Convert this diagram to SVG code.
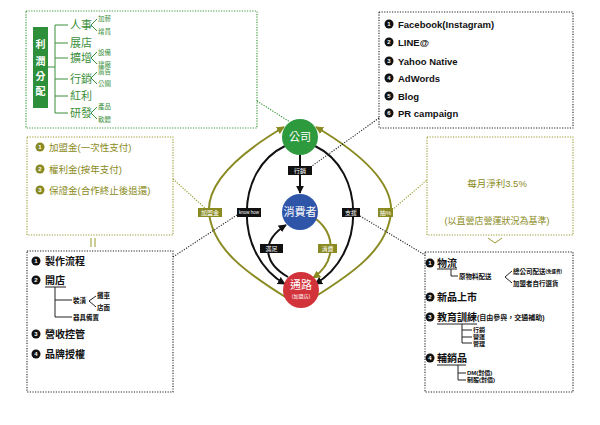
<svg xmlns="http://www.w3.org/2000/svg" width="600" height="425" viewBox="0 0 600 425">
<defs>
<style>
text{font-family:"Liberation Sans","Noto Sans CJK TC",sans-serif;dominant-baseline:central}
.g{fill:#3a8f3a}
.o{fill:#8a8a22}
.k{fill:#111}
.w{fill:#fff}
.gl{stroke:#3a8f3a;fill:none;stroke-width:1}
.kl{stroke:#222;fill:none;stroke-width:1}
.dg{stroke:#3a9a3a;stroke-width:1.2;stroke-dasharray:1.2 1.4;fill:none}
.dk{stroke:#222;stroke-width:1.1;stroke-dasharray:1.2 1.4;fill:none}
.do{stroke:#9a9a30;stroke-width:1.1;stroke-dasharray:1.2 1.4;fill:none}
.arcK{stroke:#111;stroke-width:2;fill:none}
.arcO{stroke:#8a8a22;stroke-width:2;fill:none}
.lbK{fill:#111}
.lbO{fill:#8a8a22}
.lt{fill:#fff;font-size:6px;text-anchor:middle}
.num{fill:#fff;font-size:6px;font-weight:bold;text-anchor:middle}
.b{font-weight:bold}
</style>
<marker id="ak" viewBox="0 0 10 10" refX="9" refY="5" markerWidth="8" markerHeight="8" markerUnits="userSpaceOnUse" orient="auto"><path d="M0,0 L10,5 L0,10 z" fill="#111"/></marker>
<marker id="ao" viewBox="0 0 10 10" refX="9" refY="5" markerWidth="8" markerHeight="8" markerUnits="userSpaceOnUse" orient="auto"><path d="M0,0 L10,5 L0,10 z" fill="#8a8a22"/></marker>
</defs>
<rect width="600" height="425" fill="#fff"/>

<g id="connectors">
<path class="arcO" d="M287,298 C250,275 212,250 209,212 C207,180 245,150 284,127" marker-end="url(#ao)"/>
<path class="arcO" d="M313,298 C350,275 388,250 391,212 C393,180 355,150 316,127" marker-end="url(#ao)"/>
<path class="arcK" d="M285,146 C234,170 234,255 285,284" marker-end="url(#ak)"/>
<path class="arcK" d="M315,146 C366,170 366,255 315,284" marker-end="url(#ak)"/>
<path class="arcK" d="M300,155 L300,193" marker-end="url(#ak)"/>
<path class="arcK" d="M288,277 C262,262 262,240 286,225" marker-end="url(#ak)"/>
<path class="arcO" d="M316,219 C336,235 336,262 313,278" marker-end="url(#ao)"/>
<path class="dg" d="M257,101 L290,122"/>
<path class="dk" d="M379,118 L312,166"/>
<path class="do" d="M173,179 L205,208"/>
<path class="dk" d="M173,257 L237,215"/>
<path class="do" d="M392,210 L427,180"/>
<path class="dk" d="M360,216 L425,255"/>
<rect class="lbK" x="288" y="166" width="24" height="9"/><text class="lt" x="300" y="170.5">行銷</text>
<rect class="lbK" x="237" y="208" width="24" height="9"/><text class="lt" x="249" y="212.5" style="font-size:4.5px">know how</text>
<rect class="lbK" x="342" y="208" width="18" height="9"/><text class="lt" x="351" y="212.5">支援</text>
<rect class="lbO" x="198" y="208" width="24" height="9"/><text class="lt" x="210" y="212.5">加盟金</text>
<rect class="lbO" x="378" y="208" width="15" height="9"/><text class="lt" x="385.5" y="212.5">抽%</text>
<rect class="lbK" x="260" y="244" width="23" height="9"/><text class="lt" x="271.5" y="248.5">滿足</text>
<rect class="lbO" x="318" y="244" width="19" height="9"/><text class="lt" x="327.5" y="248.5">消費</text>
</g>

<g id="node-company"><circle cx="300" cy="137" r="18" fill="#2e9a3e"/><text class="w" x="300" y="137" style="font-size:11px;text-anchor:middle">公司</text></g>
<g id="node-consumer"><circle cx="300" cy="212" r="18" fill="#2f55a8"/><text class="w" x="300" y="212" style="font-size:11px;text-anchor:middle">消費者</text></g>
<g id="node-channel"><circle cx="301" cy="290" r="18" fill="#d2323a"/><text class="w" x="301" y="284.5" style="font-size:11px;text-anchor:middle">通路</text><text class="w" x="301" y="295.5" style="font-size:5px;text-anchor:middle">(加盟店)</text></g>

<g id="profit-box">
<rect class="dg" x="26" y="11" width="231" height="117"/>
<rect x="33" y="27" width="15" height="81" fill="#2e8f3a"/>
<text class="w b" x="40.5" y="44" style="font-size:10px;text-anchor:middle">利</text>
<text class="w b" x="40.5" y="61" style="font-size:10px;text-anchor:middle">潤</text>
<text class="w b" x="40.5" y="76" style="font-size:10px;text-anchor:middle">分</text>
<text class="w b" x="40.5" y="91" style="font-size:10px;text-anchor:middle">配</text>
<path class="gl" d="M48,67 H55 M55,25 V113 M55,25 H68 M55,43 H68 M55,58 H68 M55,79 H68 M55,96 H68 M55,113 H68"/>
<path class="gl" d="M97,19 L91,25 L97,31 M97,52 L91,58 L97,64 M97,72 L91,78 L97,84 M97,107 L91,113 L97,119"/>
<g class="g" style="font-size:11px">
<text x="70" y="25">人事</text><text x="70" y="43">展店</text><text x="70" y="58">擴增</text><text x="70" y="79">行銷</text><text x="70" y="96">紅利</text><text x="70" y="113">研發</text>
</g>
<g class="g" style="font-size:6.5px">
<text x="98" y="18">加薪</text><text x="98" y="31">增員</text><text x="98" y="52">設備</text><text x="98" y="64">建廠</text><text x="98" y="71">廣告</text><text x="98" y="83">公關</text><text x="98" y="106">產品</text><text x="98" y="119">軟體</text>
</g>
</g>

<g id="media-box">
<rect class="dk" x="379" y="12" width="194" height="116"/>
<g style="font-size:9.5px;font-weight:bold" class="k">
<circle cx="389" cy="24" r="4.5" fill="#111"/><text class="num" x="389" y="24.3">1</text><text x="398" y="24">Facebook(Instagram)</text>
<circle cx="389" cy="42" r="4.5" fill="#111"/><text class="num" x="389" y="42.3">2</text><text x="398" y="42">LINE@</text>
<circle cx="389" cy="61" r="4.5" fill="#111"/><text class="num" x="389" y="61.3">3</text><text x="398" y="61">Yahoo Native</text>
<circle cx="389" cy="78" r="4.5" fill="#111"/><text class="num" x="389" y="78.3">4</text><text x="398" y="78">AdWords</text>
<circle cx="389" cy="96" r="4.5" fill="#111"/><text class="num" x="389" y="96.3">5</text><text x="398" y="96">Blog</text>
<circle cx="389" cy="113" r="4.5" fill="#111"/><text class="num" x="389" y="113.3">6</text><text x="398" y="113">PR campaign</text>
</g>
</g>

<g id="fee-box">
<rect class="do" x="27" y="137" width="146" height="98"/>
<g class="o" style="font-size:9.5px">
<circle cx="40" cy="147" r="4.5" fill="#8a8a22"/><text class="num" x="40" y="147.3">1</text><text x="49" y="147">加盟金(一次性支付)</text>
<circle cx="40" cy="169" r="4.5" fill="#8a8a22"/><text class="num" x="40" y="169.3">2</text><text x="49" y="169">權利金(按年支付)</text>
<circle cx="40" cy="190" r="4.5" fill="#8a8a22"/><text class="num" x="40" y="190.3">3</text><text x="49" y="190">保證金(合作終止後退還)</text>
</g>
<path d="M91,238 V247 M95,238 V247" stroke="#9a9a30" stroke-width="1"/>
</g>

<g id="royalty-box">
<rect class="do" x="427" y="137" width="146" height="98"/>
<text class="o" x="497" y="183" style="font-size:9.5px;text-anchor:middle">每月淨利3.5%</text>
<text class="o" x="497" y="221" style="font-size:9px;text-anchor:middle">(以直營店營運狀況為基準)</text>
<path d="M488,238 L495,243 L502,238" stroke="#9a9a30" stroke-width="1" fill="none"/>
</g>

<g id="franchisor-box">
<rect class="dk" x="27" y="251" width="146" height="141"/>
<g class="k b" style="font-size:10px">
<circle cx="36" cy="261" r="4.5" fill="#111"/><text class="num" x="36" y="261.3">1</text><text x="45" y="261">製作流程</text>
<circle cx="36" cy="280" r="4.5" fill="#111"/><text class="num" x="36" y="280.3">2</text><text x="45" y="280">開店</text>
<circle cx="36" cy="334" r="4.5" fill="#111"/><text class="num" x="36" y="334.3">3</text><text x="45" y="334">營收控管</text>
<circle cx="36" cy="354" r="4.5" fill="#111"/><text class="num" x="36" y="354.3">4</text><text x="45" y="354">品牌授權</text>
</g>
<path class="kl" d="M45,287 H66 M55,287 V317 M55,300 H72 M55,317 H72 M96,296 L89,301 L96,307"/>
<g class="k b" style="font-size:6.5px">
<text x="73" y="300">裝潢</text><text x="97" y="295">攤車</text><text x="97" y="307">店面</text><text x="73" y="317">器具備置</text>
</g>
</g>

<g id="support-box">
<rect class="dk" x="425" y="252" width="148" height="140"/>
<g class="k b" style="font-size:10px">
<circle cx="430" cy="263" r="4.5" fill="#111"/><text class="num" x="430" y="263.3">1</text><text x="437" y="263">物流</text>
<circle cx="430" cy="297" r="4.5" fill="#111"/><text class="num" x="430" y="297.3">2</text><text x="437" y="297">新品上市</text>
<circle cx="430" cy="317" r="4.5" fill="#111"/><text class="num" x="430" y="317.3">3</text><text x="437" y="317">教育訓練<tspan style="font-size:7px">(自由參與，交通補助)</tspan></text>
<circle cx="430" cy="358" r="4.5" fill="#111"/><text class="num" x="430" y="358.3">4</text><text x="437" y="358">輔銷品</text>
</g>
<path class="kl" d="M437,269 H457 M451,269 V276 H458 M512,271 L505,277 L512,283 M437,324 H477 M462,324 V343 M462,330 H472 M462,337 H472 M462,343 H472 M437,365 H466 M458,365 V380 M458,373 H466 M458,380 H466"/>
<g class="k b" style="font-size:6px">
<text x="459" y="276" style="font-size:6.5px">原物料配送</text>
<text x="513" y="271" style="font-size:6.5px">總公司配送<tspan style="font-size:4.5px">(免運費)</tspan></text>
<text x="513" y="283" style="font-size:6.5px">加盟者自行選貨</text>
<text x="473" y="330">行銷</text><text x="473" y="337">營運</text><text x="473" y="343.5">管理</text>
<text x="467" y="373">DM(對價)</text><text x="467" y="380">制服(對價)</text>
</g>
</g>
</svg>
